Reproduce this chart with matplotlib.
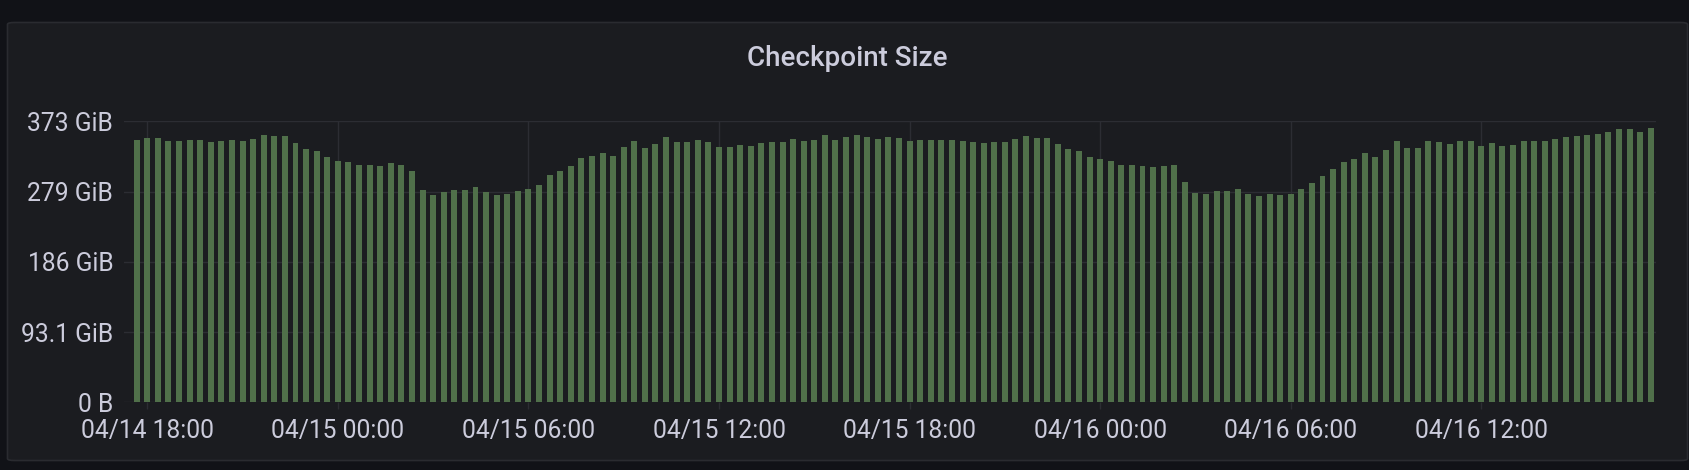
import matplotlib
matplotlib.use("Agg")
import matplotlib.pyplot as plt
import matplotlib.dates as mdates
from matplotlib.patches import FancyBboxPatch
import numpy as np
import pandas as pd

# checkpoint size in GiB, one sample every 20 minutes
times = pd.date_range("2024-04-14 17:40", periods=144, freq="20min")
size_gib = [
    347.8, 350.9, 350.9, 346.4, 346.4, 347.8, 347.8, 345.1, 346.4, 347.8,
    346.4, 349.1, 354.4, 353.1, 353.1, 343.8, 335.8, 333.2, 325.2, 319.9,
    318.6, 314.6, 314.6, 313.3, 317.3, 314.6, 306.7, 281.5, 274.9, 278.8,
    281.5, 281.5, 285.5, 278.8, 274.9, 276.2, 280.2, 282.8, 288.1, 301.4,
    306.7, 313.3, 323.9, 326.6, 330.5, 326.6, 338.5, 346.4, 337.2, 342.5,
    351.8, 345.1, 345.1, 347.8, 345.1, 338.5, 338.5, 341.1, 339.8, 343.8,
    345.1, 345.1, 349.1, 346.4, 347.8, 354.4, 347.8, 351.8, 354.4, 351.8,
    349.1, 351.8, 350.4, 346.4, 347.8, 347.8, 347.8, 347.8, 346.4, 345.1,
    343.8, 345.1, 345.1, 349.1, 353.1, 350.4, 350.4, 342.5, 335.8, 333.2,
    325.2, 322.6, 319.9, 314.6, 314.6, 313.3, 312.0, 313.3, 314.6, 292.1,
    277.5, 276.2, 280.2, 280.2, 282.8, 276.2, 273.5, 276.2, 274.9, 276.2,
    282.8, 290.8, 300.1, 309.3, 318.6, 322.6, 330.5, 325.2, 334.5, 346.4,
    337.2, 337.2, 346.4, 345.1, 342.5, 346.4, 346.4, 339.8, 343.8, 339.8,
    341.1, 346.4, 346.4, 346.4, 349.1, 351.8, 353.1, 354.4, 355.7, 358.4,
    362.4, 362.4, 358.4, 363.7,
]
# y ticks sit at multiples of 100 GB, shown in GiB
ytick_bytes = [0, 1e11, 2e11, 3e11, 4e11]
ytick_labels = ["0 B", "93.1 GiB", "186 GiB", "279 GiB", "373 GiB"]
xtick_times = pd.date_range("2024-04-14 18:00", "2024-04-16 12:00", freq="6h")

W, H = 1690, 470
bg = "#111217"
panel = "#1b1c20"
grid = "#2c2d33"
text = "#ccccdc"
bar_color = "#50704a"

plt.rcParams["font.family"] = ["Roboto", "DejaVu Sans"]

fig = plt.figure(figsize=(W / 100, H / 100), dpi=100)
fig.patch.set_facecolor(bg)

# panel box
fig.patches.append(FancyBboxPatch(
    (7.5 / W, (H - 460.5) / H), (1680 / W), (438 / H),
    boxstyle="round,pad=0,rounding_size=0.004", transform=fig.transFigure,
    facecolor=panel, edgecolor="#2a2b30", linewidth=1.2, zorder=-5))

fig.text(847 / W, 1 - 58 / H, "Checkpoint Size", ha="center", va="center",
         color=text, fontsize=20, fontweight="medium")

left, right, top, bottom = 124.3, 1656, 121.3, 402.3
ax = fig.add_axes([left / W, 1 - bottom / H, (right - left) / W, (bottom - top) / H])
ax.set_zorder(2)
ax.set_facecolor("none")

ax.bar(times, size_gib, width=11.3 / 1440, color=bar_color, zorder=2)

gib = 2 ** 30
ax.set_ylim(0, 4e11 / gib)
ax.set_yticks([b / gib for b in ytick_bytes])
ax.set_yticklabels(ytick_labels)

ax.set_xlim(pd.Timestamp("2024-04-14 17:16:35"), pd.Timestamp("2024-04-16 17:30"))
ax.set_xticks(xtick_times)
ax.xaxis.set_major_formatter(mdates.DateFormatter("%m/%d %H:%M"))

ax.grid(True, color=grid, linewidth=1, zorder=1)
ax.set_axisbelow(True)
for s in ax.spines.values():
    s.set_visible(False)
ax.tick_params(axis="y", length=0, pad=8, labelsize=17.7, labelcolor=text)
ax.tick_params(axis="x", length=5, width=1, color=grid, pad=7, labelsize=17.7,
               labelcolor=text)

fig.savefig("out.png", dpi=100, facecolor=bg)
